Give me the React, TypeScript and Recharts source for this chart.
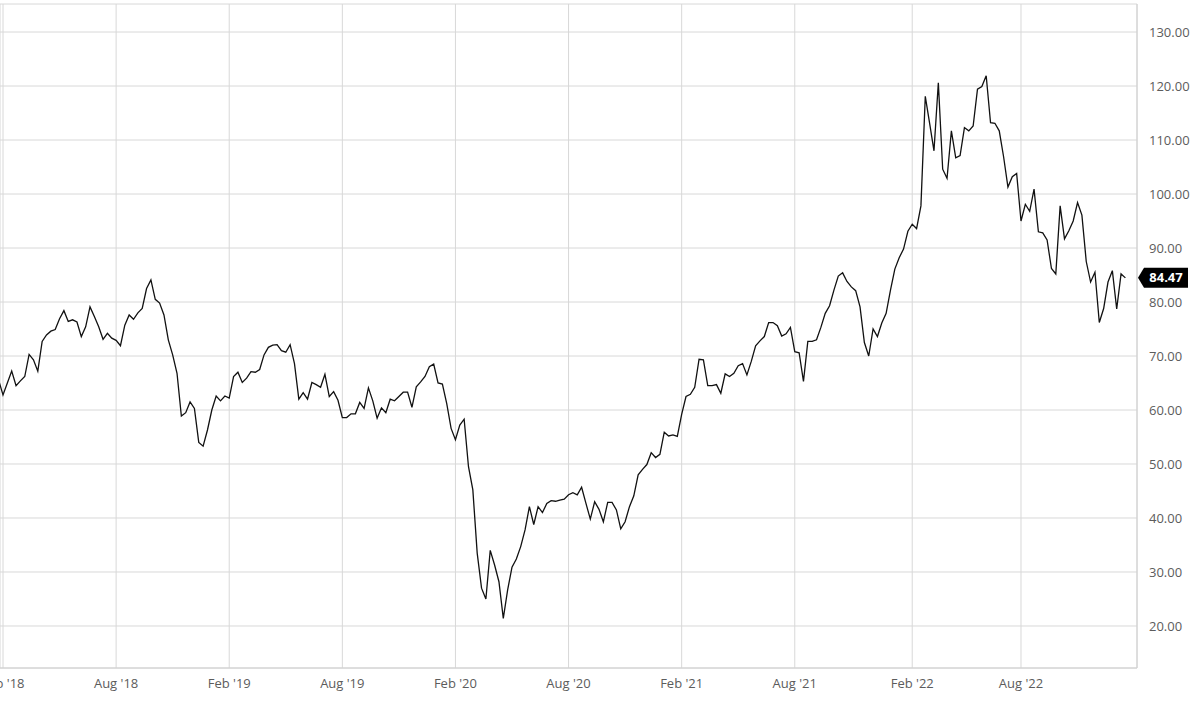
import React from "react";
import {
  LineChart,
  Line,
  XAxis,
  YAxis,
  CartesianGrid,
  ReferenceLine,
} from "recharts";

// weekly closes, first point is the Monday 29 Jan 2018
const FIRST_WEEK = "2018-01-29";

const PRICES = [
  65.5, 62.8, 65.0, 67.2, 64.5, 65.4, 66.2, 70.3, 69.3, 67.2,
  72.7, 73.9, 74.6, 74.9, 76.9, 78.4, 76.4, 76.7, 76.3, 73.6,
  75.4, 79.1, 77.3, 75.4, 73.1, 74.2, 73.3, 72.9, 71.9, 75.7,
  77.6, 76.8, 78.0, 78.8, 82.5, 84.1, 80.5, 79.8, 77.6, 73.0,
  70.2, 66.8, 58.9, 59.5, 61.5, 60.3, 54.0, 53.3, 56.3, 60.0,
  62.6, 61.7, 62.6, 62.2, 66.2, 67.0, 65.1, 65.9, 67.1, 67.0,
  67.5, 70.2, 71.6, 72.0, 72.1, 71.0, 70.7, 72.1, 68.6, 62.0,
  63.2, 62.0, 65.1, 64.7, 64.2, 66.6, 62.5, 63.4, 61.8, 58.6,
  58.6, 59.3, 59.3, 61.4, 60.3, 64.1, 61.7, 58.5, 60.4, 59.5,
  62.0, 61.7, 62.5, 63.3, 63.3, 60.5, 64.3, 65.2, 66.2, 68.0,
  68.5, 65.0, 64.8, 61.2, 56.6, 54.5, 57.2, 58.3, 49.5, 45.2,
  33.5, 27.0, 25.0, 34.0, 31.3, 28.2, 21.4, 26.7, 30.9, 32.4,
  34.7, 37.8, 42.1, 38.8, 42.1, 41.0, 42.7, 43.2, 43.1, 43.3,
  43.5, 44.3, 44.7, 44.3, 45.7, 42.7, 39.8, 43.0, 41.6, 39.3,
  42.9, 42.9, 41.5, 38.0, 39.3, 42.1, 44.1, 48.0, 49.0, 49.9,
  52.1, 51.2, 51.8, 55.9, 55.2, 55.4, 55.1, 59.2, 62.5, 62.9,
  64.2, 69.4, 69.3, 64.5, 64.5, 64.7, 63.1, 66.7, 66.2, 66.8,
  68.2, 68.6, 66.5, 69.0, 71.9, 72.8, 73.6, 76.2, 76.2, 75.6,
  73.7, 74.1, 75.3, 70.8, 70.6, 65.3, 72.7, 72.7, 73.0, 75.3,
  77.9, 79.3, 82.2, 84.8, 85.4, 83.8, 82.8, 82.1, 79.1, 72.5,
  70.0, 75.0, 73.6, 76.1, 77.9, 82.2, 86.1, 88.2, 89.8, 93.1,
  94.4, 93.6, 97.8, 118.1, 113.1, 108.0, 120.6, 104.6, 102.9, 111.7,
  106.7, 107.1, 112.3, 111.7, 112.6, 119.4, 119.9, 121.9, 113.2, 113.1,
  111.7, 106.9, 101.3, 103.2, 103.8, 95.0, 98.1, 96.8, 100.9, 93.0,
  92.8, 91.5, 86.2, 85.2, 97.8, 91.7, 93.2, 95.0, 98.4, 96.1,
  87.5, 83.7, 85.5, 76.2, 78.8, 83.7, 85.8, 78.7, 85.2, 84.47,
];

// first weekly bar of each Feb / Aug
const X_TICKS = [
  "2018-02-05", "2018-08-06", "2019-02-04", "2019-08-05", "2020-02-03",
  "2020-08-03", "2021-02-01", "2021-08-02", "2022-02-07", "2022-08-01",
];

const Y_TICKS = [20, 30, 40, 50, 60, 70, 80, 90, 100, 110, 120, 130];

const MONTHS = ["Jan", "Feb", "Mar", "Apr", "May", "Jun", "Jul", "Aug", "Sep", "Oct", "Nov", "Dec"];

const WEEK = 7 * 24 * 3600 * 1000;
const toTime = (s: string) => new Date(s + "T00:00:00Z").getTime();

const start = toTime(FIRST_WEEK);
const data = PRICES.map((v, i) => ({ t: start + i * WEEK, close: v }));
const last = PRICES[PRICES.length - 1];
const xTicks = X_TICKS.map(toTime);

const fmtDate = (t: number) => {
  const d = new Date(t);
  return `${MONTHS[d.getUTCMonth()]} '${String(d.getUTCFullYear()).slice(2)}`;
};

function PriceTag(props: any) {
  const vb = props.viewBox || {};
  const x = vb.x + vb.width + 1;
  const y = vb.y;
  const h = 20;
  const w = 46;
  return (
    <g>
      <path
        d={`M${x},${y} L${x + 6},${y - h / 2} L${x + w + 4},${y - h / 2} L${x + w + 4},${y + h / 2} L${x + 6},${y + h / 2} Z`}
        fill="#000"
      />
      <text
        x={x + 6 + (w - 2) / 2}
        y={y + 4.5}
        textAnchor="middle"
        fill="#fff"
        fontSize={13}
        fontWeight={700}
        fontFamily="Open Sans"
      >
        {last.toFixed(2)}
      </text>
    </g>
  );
}

export default function App() {
  // px per week measured on the axis: 4.35
  const pxWeek = 4.3504;
  const xMin = xTicks[0] - (3 / pxWeek) * WEEK;
  const xMax = xTicks[0] + ((1137 - 3) / pxWeek) * WEEK;

  return (
    <div style={{ position: "absolute", left: 0, top: 0, background: "#fff" }}>
      <LineChart
        width={1200}
        height={702}
        data={data}
        margin={{ top: 4, right: 0, bottom: 0, left: 0 }}
        style={{ fontFamily: "Open Sans" }}
      >
        <CartesianGrid stroke="#d8d8d8" />
        <XAxis
          dataKey="t"
          type="number"
          domain={[xMin, xMax]}
          allowDataOverflow
          ticks={xTicks}
          interval={0}
          tickFormatter={fmtDate}
          height={34}
          stroke="#d0d0d0"
          tickLine={false}
          tickMargin={5}
          tick={{ fill: "#5c5c5c", fontSize: 13 }}
        />
        <YAxis
          orientation="right"
          domain={[12.22, 135.19]}
          allowDataOverflow
          ticks={Y_TICKS}
          interval={0}
          tickFormatter={(v: number) => v.toFixed(2)}
          width={63}
          stroke="#d0d0d0"
          tickLine={false}
          tickMargin={6}
          tick={{ fill: "#5c5c5c", fontSize: 13 }}
        />
        <ReferenceLine
          y={last}
          stroke="none"
          label={(p: any) => <PriceTag {...p} />}
        />
        <Line
          type="linear"
          dataKey="close"
          stroke="#111"
          strokeWidth={1.3}
          dot={false}
          isAnimationActive={false}
        />
      </LineChart>
    </div>
  );
}
